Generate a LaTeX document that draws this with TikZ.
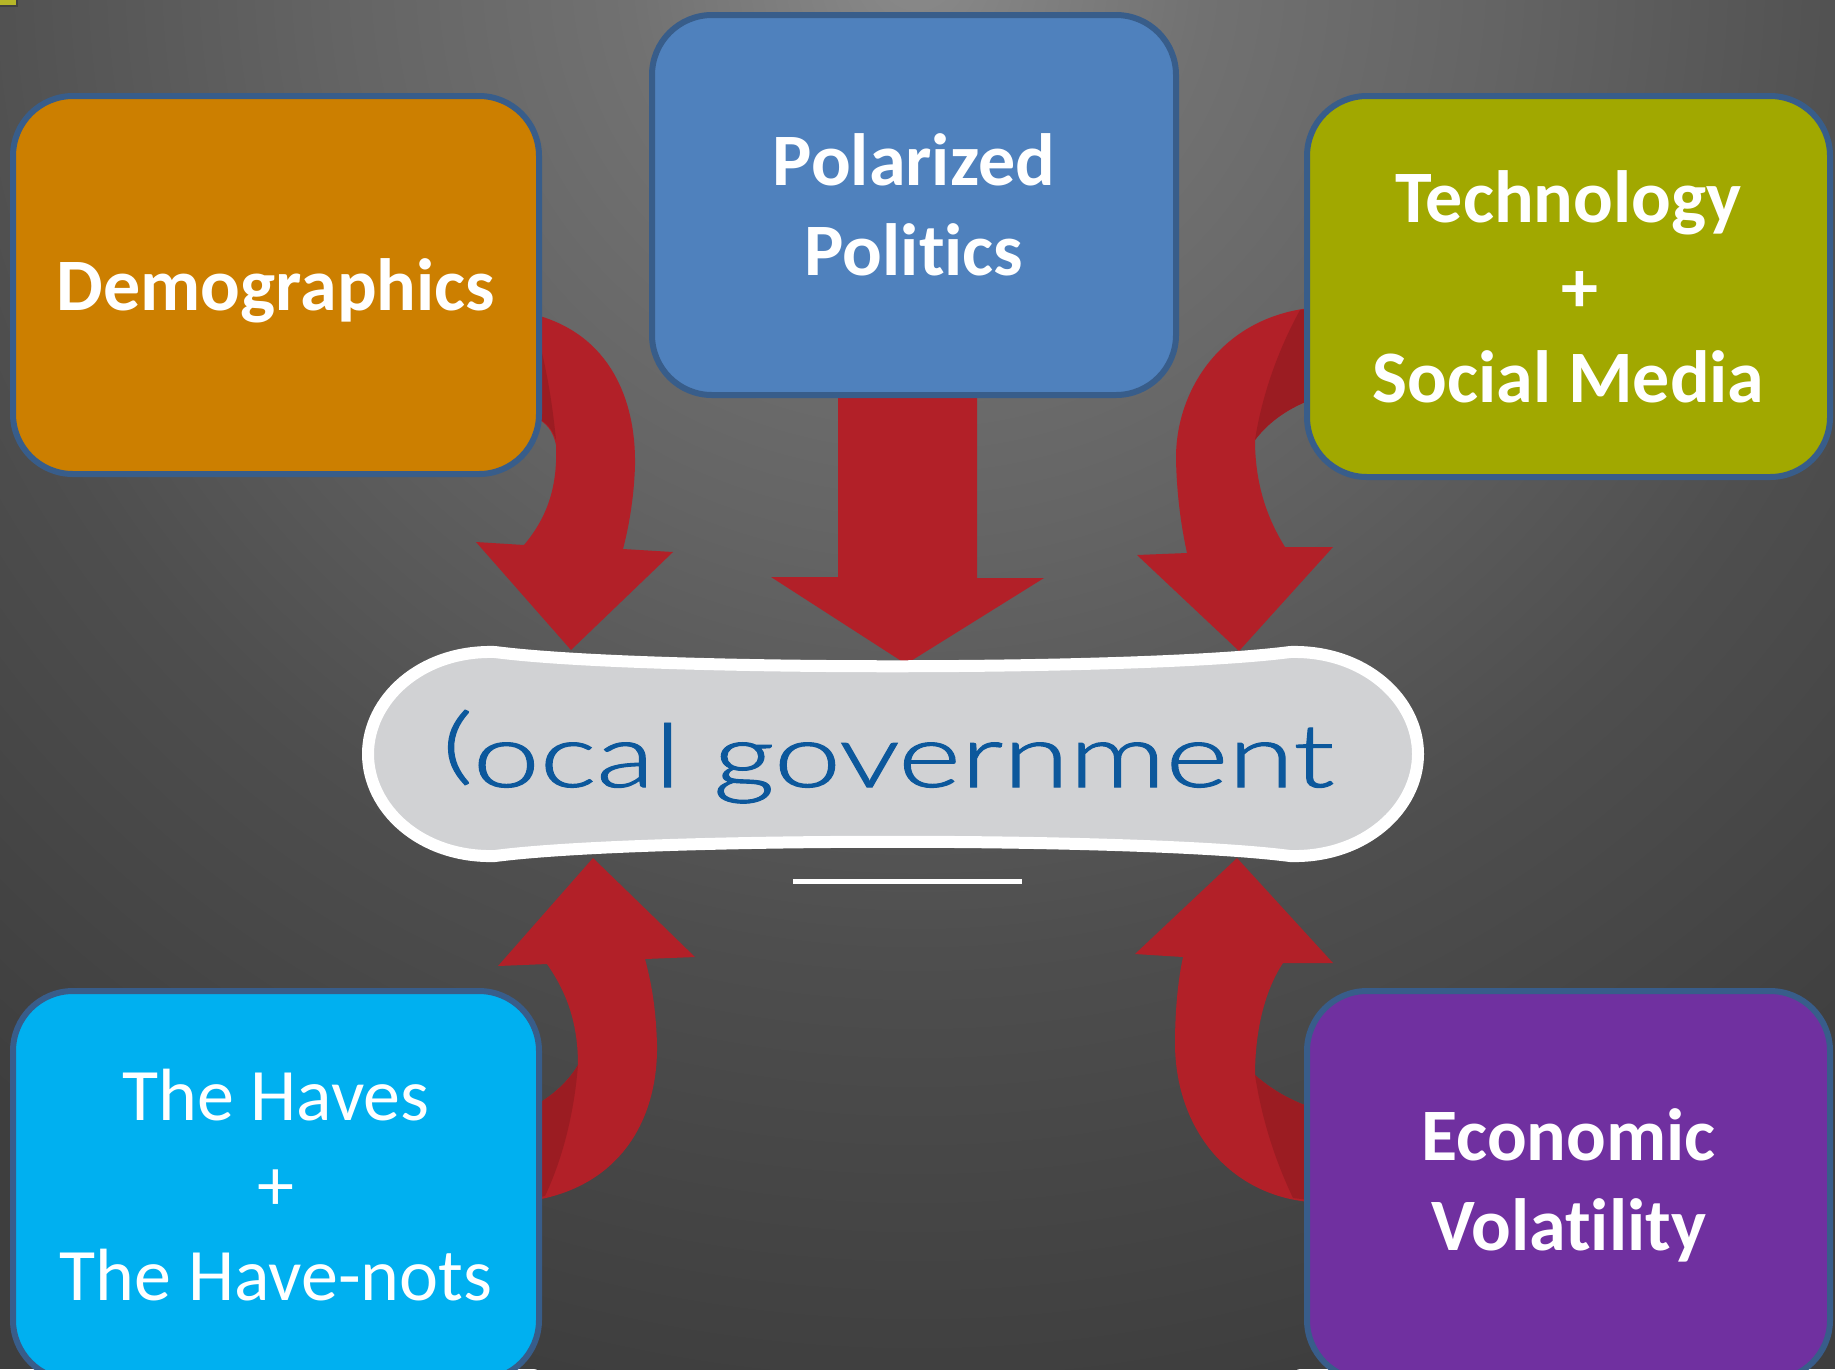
\documentclass[tikz,border=0pt]{standalone}
\usepackage{fontspec}
\usepackage{graphicx}
\setmainfont{Carlito}[Ligatures={NoCommon}]
\newfontfamily\govfont{Lato Light}[FakeBold=1.1]

\definecolor{bgA}{RGB}{138,138,138}
\definecolor{bgA2}{RGB}{113,113,113}
\definecolor{bgB}{RGB}{100,100,100}
\definecolor{bgC}{RGB}{78,78,78}
\definecolor{bgD}{RGB}{62,62,62}
\definecolor{demoC}{RGB}{204,127,0}
\definecolor{polarC}{RGB}{79,129,189}
\definecolor{techC}{RGB}{161,168,0}
\definecolor{havesC}{RGB}{0,176,240}
\definecolor{econC}{RGB}{112,48,160}
\definecolor{boxline}{RGB}{56,93,138}
\definecolor{arrowred}{RGB}{178,32,40}
\definecolor{folddark}{RGB}{155,28,34}
\definecolor{pillgrey}{RGB}{209,210,212}
\definecolor{govblue}{RGB}{12,88,156}
\definecolor{cornerY}{RGB}{182,182,40}

\pgfdeclareradialshading{bgshade}{\pgfpoint{0bp}{0bp}}{color(0bp)=(bgA); color(5bp)=(bgA2); color(10bp)=(bgB); color(17bp)=(bgC); color(25bp)=(bgD); color(50bp)=(bgD)}

\tikzset{
  box/.style={draw=boxline, line width=6pt, rounded corners=60pt, text=white,
    align=center, inner sep=0pt, font=\fontsize{74}{90}\selectfont\bfseries},
  boxregular/.style={box, font=\fontsize{74}{90}\selectfont},
  redarrow/.style={fill=arrowred},
  fold/.style={fill=folddark},
  pill/.style={fill=pillgrey, draw=white, line width=12pt, line join=round},
}

\begin{document}
\begin{tikzpicture}[x=1pt,y=-1pt]
\useasboundingbox (0,0) rectangle (1835,1369);
\begin{scope}
\clip (0,0) rectangle (1835,1369);
% background
\fill[bgD] (0,0) rectangle (1835,1369);
\shade[shading=bgshade] (917,-30) circle[radius=1450];

% arrows (behind boxes)
\fill[redarrow] (838,390) -- (838,577) -- (771,577) -- (906,664) -- (1044,578) -- (977,578) -- (977,390) -- cycle;

\fill[redarrow] (536,315) .. controls (610,335) and (636,400) .. (635,465) .. controls (634,500) and (628,530) .. (623,549) -- (673,552) -- (571,650) -- (476,542) -- (524,545) .. controls (545,520) and (558,490) .. (556,445) .. controls (553,430) and (545,422) .. (536,418) -- cycle;
\fill[fold] (536,330) .. controls (546,365) and (552,400) .. (556,440) .. controls (552,428) and (545,421) .. (536,418) -- cycle;

\fill[redarrow] (1310,308) .. controls (1222,318) and (1175,390) .. (1176,460) .. controls (1177,500) and (1182,530) .. (1187,553) -- (1137,555) -- (1239,651) -- (1333,547) -- (1285,547) .. controls (1265,515) and (1255,480) .. (1255,440) .. controls (1270,420) and (1290,408) .. (1310,400) -- cycle;
\fill[fold] (1300,310) .. controls (1278,350) and (1262,395) .. (1255,440) .. controls (1270,420) and (1290,408) .. (1310,400) -- (1310,309) -- cycle;

\fill[redarrow] (536,1200) .. controls (620,1185) and (658,1120) .. (657,1045) .. controls (656,1010) and (652,985) .. (645,959) -- (695,957) -- (593,858) -- (498,966) -- (547,964) .. controls (565,990) and (578,1020) .. (578,1065) .. controls (568,1082) and (553,1095) .. (536,1105) -- cycle;
\fill[fold] (536,1105) .. controls (553,1095) and (568,1082) .. (578,1065) .. controls (574,1115) and (562,1160) .. (545,1196) -- (536,1198) -- cycle;

\fill[redarrow] (1310,1202) .. controls (1230,1195) and (1176,1130) .. (1175,1045) .. controls (1175,1010) and (1178,980) .. (1183,957) -- (1135,954) -- (1237,858) -- (1333,963) -- (1283,963) .. controls (1265,990) and (1255,1030) .. (1255,1075) .. controls (1272,1090) and (1290,1100) .. (1310,1107) -- cycle;
\fill[fold] (1255,1075) .. controls (1272,1090) and (1290,1100) .. (1310,1107) -- (1310,1200) -- (1293,1198) .. controls (1275,1160) and (1262,1120) .. (1255,1075) -- cycle;

% boxes
\node[box, fill=demoC, minimum width=526pt, minimum height=378pt] (demo) at (276,285) {\raisebox{-6pt}[\height][\depth]{Demographics}};
\node[box, fill=polarC, minimum width=524pt, minimum height=380pt] (polar) at (914,205) {Polarized\\Politics};
\node[box, fill=techC, minimum width=523pt, minimum height=381pt] (tech) at (1568.5,286.5) {Technology\\\hspace*{22pt}+\\Social Media};
\node[boxregular, fill=havesC, minimum width=526pt, minimum height=389pt] (haves) at (276,1185.5) {The Haves\\+\\The Have-nots};
\node[box, fill=econC, minimum width=523pt, minimum height=389pt] (econ) at (1568.5,1185.5) {Economic\\Volatility};

% central pill
\path[pill] (495,652) .. controls (640,671) and (1145,671) .. (1290,652) .. controls (1365,650) and (1418,700) .. (1418,754) .. controls (1418,808) and (1365,858) .. (1290,856) .. controls (1145,837) and (640,837) .. (495,856) .. controls (420,858) and (368,808) .. (368,754) .. controls (368,700) and (420,650) .. (495,652) -- cycle;
\node[anchor=base, inner sep=0pt, text=govblue] (gov) at (888,787)
  {\resizebox{892pt}{\height}{\govfont\fontsize{88}{88}\selectfont \raisebox{0.15em}{\scalebox{1}[0.95]{(}}ocal government}};
\coordinate (ulA) at (793,881);
\coordinate (ulB) at (1022,881);
\draw[white, line width=5pt] (ulA) -- (ulB);

% corner fragment
\fill[black!75] (0,0) rectangle (18,7);
\fill[cornerY] (0,0) rectangle (16,5);
\end{scope}
\end{tikzpicture}
\end{document}
